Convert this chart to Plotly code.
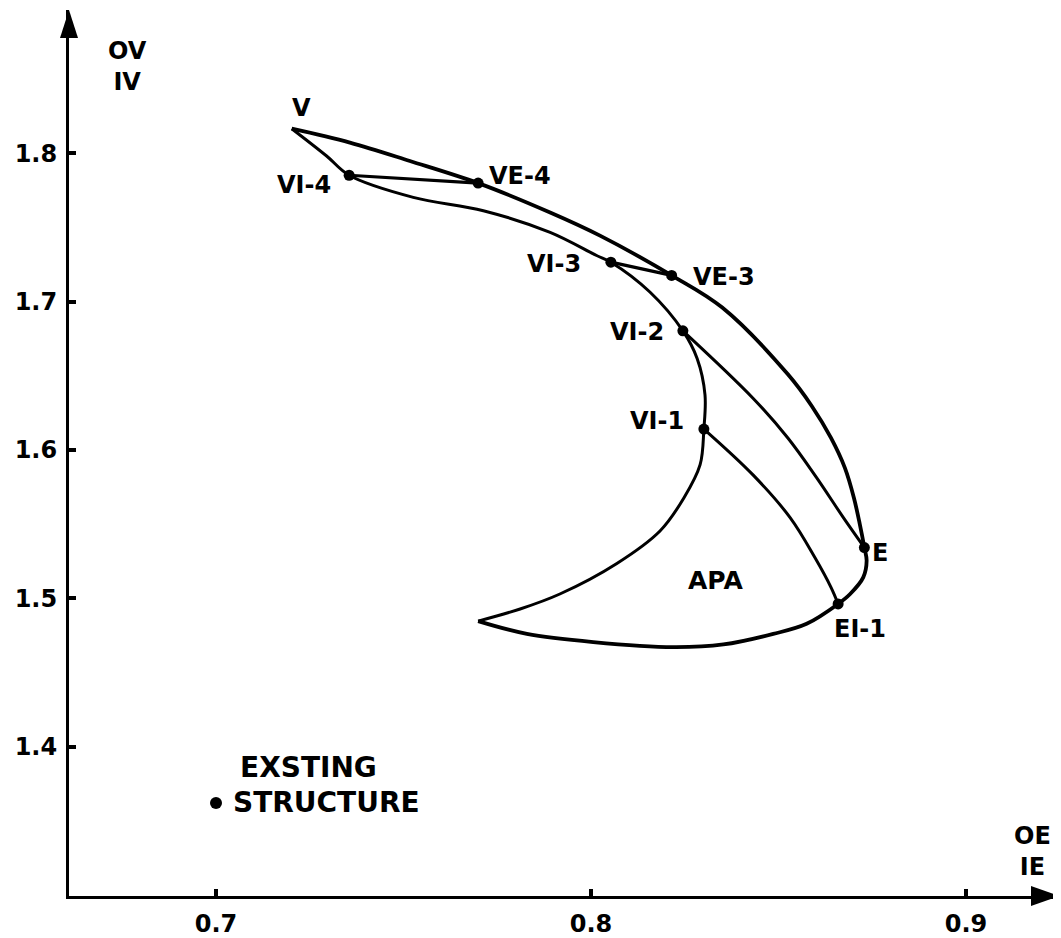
import plotly.graph_objects as go

# ---------------- data (x: OE/IE, y: OV/IV) ----------------
point_names = ["V", "VI-4", "VE-4", "VI-3", "VE-3", "VI-2", "VI-1", "E", "EI-1"]
point_x = [0.7202, 0.7355, 0.7699, 0.8053, 0.8215, 0.8245, 0.8301, 0.8729, 0.8659]
point_y = [1.8166, 1.7852, 1.7799, 1.7266, 1.7177, 1.6803, 1.6141, 1.5342, 1.4962]

existing_x = [0.700]
existing_y = [1.362]

# outer boundary: V -> upper edge (VE-4, VE-3) -> E -> EI-1 -> bottom edge -> cusp
outer_x = [0.7202, 0.7357, 0.7517, 0.7699, 0.7891, 0.8024, 0.8215, 0.8350, 0.8525,
           0.8589, 0.8640, 0.8677, 0.8701, 0.8717, 0.8729, 0.8735, 0.8726, 0.8691,
           0.8659, 0.8575, 0.8486, 0.8353, 0.8220, 0.8006, 0.7829, 0.7699]
outer_y = [1.8166, 1.8072, 1.7948, 1.7799, 1.7601, 1.7445, 1.7177, 1.6960, 1.6510,
           1.6295, 1.6081, 1.5879, 1.5678, 1.5497, 1.5342, 1.5253, 1.5141, 1.5029,
           1.4962, 1.4828, 1.4760, 1.4689, 1.4671, 1.4705, 1.4760, 1.4846]

# inner edge: cusp -> VI-1 -> VI-2 -> VI-3 -> VI-4 -> V
inner_x = [0.7699, 0.7811, 0.7917, 0.8069, 0.8184, 0.8248, 0.8291, 0.8301, 0.8304,
           0.8283, 0.8245, 0.8157, 0.8053, 0.8015, 0.7891, 0.7713, 0.7526, 0.7355,
           0.7295, 0.7202]
inner_y = [1.4846, 1.4928, 1.5029, 1.5235, 1.5454, 1.5678, 1.5901, 1.6141, 1.6371,
           1.6617, 1.6803, 1.7065, 1.7266, 1.7311, 1.7467, 1.7613, 1.7703, 1.7852,
           1.7982, 1.8166]

# connecting lines
vi4_ve4_x = [0.7355, 0.7699]
vi4_ve4_y = [1.7852, 1.7799]
vi3_ve3_x = [0.8053, 0.8215]
vi3_ve3_y = [1.7266, 1.7177]
vi2_e_x = [0.8245, 0.8432, 0.8525, 0.8602, 0.8673, 0.8729]
vi2_e_y = [1.6803, 1.6349, 1.6081, 1.5812, 1.5544, 1.5342]
vi1_ei1_x = [0.8301, 0.8432, 0.8531, 0.8597, 0.8640, 0.8659]
vi1_ei1_y = [1.6141, 1.5832, 1.5544, 1.5275, 1.5074, 1.4962]

x_ticks = [0.7, 0.8, 0.9]
x_tick_text = ["0.7", "0.8", "0.9"]
y_ticks = [1.4, 1.5, 1.6, 1.7, 1.8]
y_tick_text = ["1.4", "1.5", "1.6", "1.7", "1.8"]

# ---------------- figure ----------------
# the page adds an 8px body margin, so the figure is 8px smaller than the window
FONT = "DejaVu Sans"
W, H = 1053, 930
L, R, T, B = 61, 0, 2, 38
X_RANGE = [0.6608, 0.6608 + (W - L - R) / 3750.0]
Y_RANGE = [1.2993, 1.2993 + (H - T - B) / 1490.0]

fig = go.Figure()

def curve(xs, ys, width):
    fig.add_trace(go.Scatter(x=xs, y=ys, mode="lines",
                             line=dict(color="black", width=width, shape="spline", smoothing=1.0),
                             hoverinfo="skip", showlegend=False))

curve(outer_x, outer_y, 3.8)
curve(inner_x, inner_y, 3.0)
curve(vi4_ve4_x, vi4_ve4_y, 3.2)
curve(vi3_ve3_x, vi3_ve3_y, 3.2)
curve(vi2_e_x, vi2_e_y, 3.0)
curve(vi1_ei1_x, vi1_ei1_y, 3.0)

# dots on the design points (V has no dot)
dot_x = [x for n, x in zip(point_names, point_x) if n != "V"]
dot_y = [y for n, y in zip(point_names, point_y) if n != "V"]
fig.add_trace(go.Scatter(x=dot_x, y=dot_y, mode="markers",
                         marker=dict(color="black", size=11), showlegend=False))
fig.add_trace(go.Scatter(x=existing_x, y=existing_y, mode="markers",
                         marker=dict(color="black", size=12), showlegend=False))

# label offsets (pixels) relative to each point
label_style = {
    "V":    dict(xanchor="center", xshift=10,  yshift=21),
    "VI-4": dict(xanchor="right",  xshift=-16, yshift=-10),
    "VE-4": dict(xanchor="left",   xshift=9,   yshift=7),
    "VI-3": dict(xanchor="right",  xshift=-28, yshift=-2),
    "VE-3": dict(xanchor="left",   xshift=19,  yshift=-2),
    "VI-2": dict(xanchor="right",  xshift=-17, yshift=-1),
    "VI-1": dict(xanchor="right",  xshift=-18, yshift=8),
    "E":    dict(xanchor="left",   xshift=6,   yshift=-5),
    "EI-1": dict(xanchor="left",   xshift=-6,  yshift=-25),
}
lab_font = dict(family=FONT, size=24, color="black", weight=700)
for n, x, y in zip(point_names, point_x, point_y):
    st = label_style[n]
    fig.add_annotation(x=x, y=y, text=n, showarrow=False, font=lab_font,
                       xanchor=st["xanchor"], yanchor="middle",
                       xshift=st["xshift"], yshift=st["yshift"])

fig.add_annotation(x=0.8331, y=1.512, text="APA", showarrow=False,
                   font=dict(family=FONT, size=25, color="black", weight=700))
big_font = dict(family=FONT, size=28, color="black", weight=700)
fig.add_annotation(x=existing_x[0], y=existing_y[0], text="EXSTING", showarrow=False,
                   font=big_font, xanchor="left", yanchor="middle", xshift=22, yshift=36)
fig.add_annotation(x=existing_x[0], y=existing_y[0], text="STRUCTURE", showarrow=False,
                   font=big_font, xanchor="left", yanchor="middle", xshift=15, yshift=1)

# axis titles
ax_font = dict(family=FONT, size=24, color="black", weight=700)
fig.add_annotation(x=0.6765, y=1.8586, text="OV<br>IV", showarrow=False, font=ax_font,
                   xanchor="center", yanchor="middle")
fig.add_annotation(x=0.9176, y=1.3295, text="OE<br>IE", showarrow=False, font=ax_font,
                   xanchor="center", yanchor="middle")

# arrowheads on the axes (paper-referenced so they are not clipped)
fig.add_shape(type="path", xref="paper", yref="paper", xsizemode="pixel", ysizemode="pixel",
              xanchor=0, yanchor=1,
              path="M 0,0 L -9,-28 L 9,-28 Z", fillcolor="black", line=dict(width=0),
              layer="above")
fig.add_shape(type="path", xref="paper", yref="paper", xsizemode="pixel", ysizemode="pixel",
              xanchor=1 - 2.0 / (W - L - R), yanchor=0,
              path="M 0,0 L -28,-10 L -28,10 Z", fillcolor="black", line=dict(width=0),
              layer="above")

tick_font = dict(family=FONT, size=24, color="black", weight=700)
fig.update_xaxes(range=X_RANGE, showline=True, linecolor="black", linewidth=3,
                 ticks="inside", ticklen=7, tickwidth=4, tickcolor="black",
                 tickvals=x_ticks, ticktext=x_tick_text, tickfont=tick_font,
                 ticklabelstandoff=4,
                 showgrid=False, zeroline=False, mirror=False, fixedrange=True)
fig.update_yaxes(range=Y_RANGE, showline=True, linecolor="black", linewidth=3,
                 ticks="inside", ticklen=7, tickwidth=4, tickcolor="black",
                 tickvals=y_ticks, ticktext=y_tick_text, tickfont=tick_font,
                 ticklabelstandoff=4,
                 showgrid=False, zeroline=False, mirror=False, fixedrange=True)

fig.update_layout(width=W, height=H, autosize=False,
                  margin=dict(l=L, r=R, t=T, b=B, pad=0),
                  paper_bgcolor="white", plot_bgcolor="white",
                  showlegend=False)

fig.write_html("out.html")
